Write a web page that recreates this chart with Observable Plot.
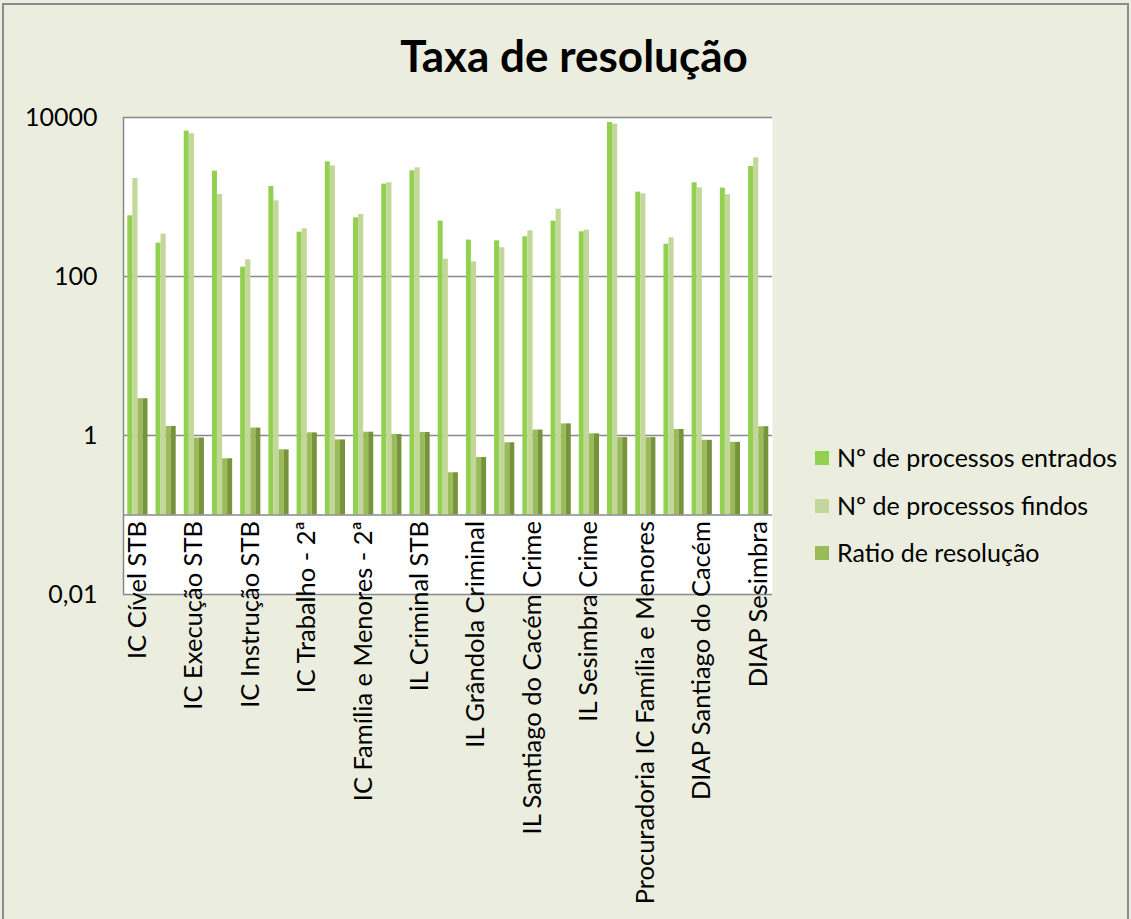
<!DOCTYPE html>
<html><head><meta charset="utf-8">
<script src="https://cdn.jsdelivr.net/npm/d3@7"></script>
<script src="https://cdn.jsdelivr.net/npm/@observablehq/plot@0.6"></script>
<style>
html,body{margin:0;padding:0;width:1131px;height:919px;overflow:hidden;background:#EBEEDE;font-family:Lato,sans-serif;}
#frame{position:absolute;left:2px;top:3px;width:1127px;height:980px;border:2px solid #8C8C8C;box-sizing:border-box;}
#chart{position:absolute;left:0;top:0;}
#title{position:absolute;left:17px;width:1114px;top:33px;text-align:center;font-weight:bold;font-size:44px;line-height:1;color:#000;}
#legend{position:absolute;left:815px;top:0;}
.item{position:absolute;left:0;white-space:nowrap;font-size:25px;line-height:1;color:#000;}
.sw{position:absolute;left:0;width:14px;height:14px;}
.lbl{position:absolute;left:22px;top:0;}
</style></head>
<body>
<div id="frame"></div>
<div id="chart"></div>
<div id="title">Taxa de resolução</div>
<div id="legend"></div>
<script>
const categories = [
  "IC Cível STB", "IC Comércio STB", "IC Execução STB", "IC Criminal STB",
  "IC Instrução STB", "IC Trabalho - 1ª", "IC Trabalho - 2ª", "IC Família e Menores - 1ª",
  "IC Família e Menores - 2ª", "IL Cível STB", "IL Criminal STB", "IL Alcácer do Sal Criminal",
  "IL Grândola Criminal", "IL Santiago do Cacém Cível", "IL Santiago do Cacém Crime", "IL Seixal Crime",
  "IL Sesimbra Crime", "DIAP Setúbal", "Procuradoria IC Família e Menores", "Procuradoria IC Trabalho",
  "DIAP Santiago do Cacém", "DIAP Seixal", "DIAP Sesimbra"
];
const tickLabels = [
  "IC Cível STB", "IC Execução STB", "IC Instrução STB", "IC Trabalho - 2ª",
  "IC Família e Menores - 2ª", "IL Criminal STB", "IL Grândola Criminal", "IL Santiago do Cacém Crime",
  "IL Sesimbra Crime", "Procuradoria IC Família e Menores", "DIAP Santiago do Cacém", "DIAP Sesimbra"
];
const entrados = [581, 263, 6740, 2115, 131, 1355, 361, 2770, 547, 1452, 2136, 497, 287, 281, 316, 497, 365, 8650, 1151, 255, 1510, 1295, 2420];
const findos   = [1710, 341, 6240, 1075, 162, 895, 398, 2465, 602, 1510, 2330, 165, 153, 230, 376, 703, 383, 8240, 1097, 307, 1306, 1067, 3112];
const ratio    = [2.90, 1.30, 0.93, 0.51, 1.24, 0.66, 1.08, 0.88, 1.10, 1.03, 1.09, 0.34, 0.53, 0.81, 1.17, 1.40, 1.05, 0.94, 0.94, 1.19, 0.87, 0.82, 1.29];
const seriesNames = ["Nº de processos entrados", "Nº de processos findos", "Ratio de resolução"];
const seriesColors = ["#92D050", "#C4D79B", "#9BBB59"];
const ratioShade = "#77933C";
const yTicks = [0.01, 1, 100, 10000];
const yTickLabels = ["0,01", "1", "100", "10000"];
const axisCross = 0.1;

const rows = categories.map((c, i) => ({cat: c, e: entrados[i], f: findos[i], r: ratio[i]}));

const W = 1131, H = 919;
const mL = 123, mR = 359, mT = 117, mB = 325;
const bw = (W - mL - mR) / categories.length;

const base = () => axisCross;
const chart = Plot.plot({
  width: W, height: H,
  marginLeft: mL, marginRight: mR, marginTop: mT, marginBottom: mB,
  style: {fontFamily: "Lato, sans-serif", fontSize: "25px", color: "#000", background: "transparent", overflow: "visible"},
  x: {type: "band", domain: categories, padding: 0, round: false, axis: null},
  y: {type: "log", domain: [0.01, 10000], axis: null},
  marks: [
    Plot.frame({fill: "white", stroke: null}),
    Plot.ruleY(yTicks, {stroke: "#888888", strokeWidth: 1.5}),
    Plot.barY(rows, {x: "cat", y1: base, y2: "e", fill: seriesColors[0], insetLeft: 4.3, insetRight: bw - 9.3}),
    Plot.barY(rows, {x: "cat", y1: base, y2: "f", fill: seriesColors[1], insetLeft: 9.3, insetRight: bw - 14.5}),
    Plot.barY(rows, {x: "cat", y1: base, y2: "r", fill: seriesColors[2], insetLeft: 14.5, insetRight: bw - 19.5}),
    Plot.barY(rows, {x: "cat", y1: base, y2: "r", fill: ratioShade, insetLeft: 19.5, insetRight: bw - 24.5}),
    Plot.ruleY([axisCross], {stroke: "#888888", strokeWidth: 1.5}),
    Plot.ruleX([categories[0]], {y1: 0.01, y2: 10000, dx: -bw / 2, stroke: "#888888", strokeWidth: 1.5}),
    Plot.axisY({ticks: yTicks, tickSize: 0, tickPadding: 26, tickFormat: (d) => yTickLabels[yTicks.indexOf(d)], fontSize: 25, fill: "#000", label: null}),
    Plot.text(tickLabels, {x: d => d, y: base, rotate: -90, textAnchor: "end", dy: 6, fontSize: 25.5, fill: "#000"})
  ]
});
document.getElementById("chart").appendChild(chart);

const legend = document.getElementById("legend");
const rowY = [458, 506, 553];
seriesNames.forEach((name, i) => {
  const it = document.createElement("div");
  it.className = "item";
  it.style.top = (rowY[i] - 13) + "px";
  it.innerHTML = `<span class="sw" style="background:${seriesColors[i]};top:6px"></span><span class="lbl">${name}</span>`;
  legend.appendChild(it);
});
</script>
</body></html>
